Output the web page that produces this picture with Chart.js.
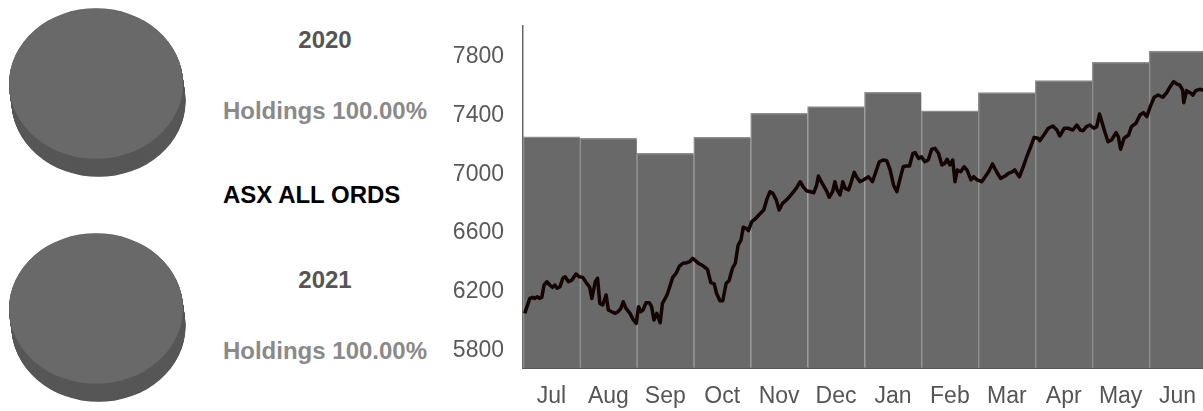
<!DOCTYPE html>
<html><head><meta charset="utf-8">
<script src="https://cdn.jsdelivr.net/npm/chart.js@4.4.1/dist/chart.umd.min.js"></script>
<style>
html,body{margin:0;padding:0;background:#fff;width:1203px;height:411px;overflow:hidden;position:relative;font-family:"Liberation Sans",Arial,sans-serif;}
.t{position:absolute;font-weight:bold;font-size:24px;line-height:24px;white-space:nowrap;}
.c{transform:translateX(-50%);}
canvas{position:absolute;}
</style></head><body>
<canvas id="pie1" width="200" height="200" style="left:0;top:-10px"></canvas>
<canvas id="pie2" width="200" height="200" style="left:0;top:214.5px"></canvas>
<div class="t c" id="y1" style="left:325px;top:27.5px;color:#555"></div>
<div class="t c" id="h1" style="left:325px;top:98.5px;color:#8a8a8a"></div>
<div class="t" id="ttl" style="left:223px;top:182.5px;color:#000"></div>
<div class="t c" id="y2" style="left:325px;top:267.5px;color:#555"></div>
<div class="t c" id="h2" style="left:325px;top:338.5px;color:#8a8a8a"></div>
<canvas id="main" width="770" height="411" style="left:440px;top:0"></canvas>
<script>
// ---- data ----
const indexName = 'ASX ALL ORDS';
const pieYears = ['2020', '2021'];
const pieHoldings = [100, 100];
const months = ['Jul','Aug','Sep','Oct','Nov','Dec','Jan','Feb','Mar','Apr','May','Jun'];
const monthlyBars = [7255, 7244, 7142, 7251, 7415, 7460, 7558, 7432, 7555, 7637, 7762, 7839];
const yTicks = [5800, 6200, 6600, 7000, 7400, 7800];
const yRange = [5681, 8009];
// ASX daily path: position in months from start of July, and index level
const asxMonth = [
 0.03,0.12,0.17,0.21,0.25,0.29,0.33,0.37,0.42,0.47,
 0.52,0.56,0.60,0.65,0.70,0.74,0.80,0.86,0.93,0.99,
 1.05,1.12,1.17,1.21,1.27,1.31,1.35,1.40,1.46,1.50,
 1.56,1.62,1.67,1.72,1.76,1.81,1.88,1.94,1.99,2.03,
 2.07,2.11,2.16,2.22,2.26,2.30,2.35,2.41,2.45,2.53,
 2.57,2.63,2.69,2.75,2.81,2.88,2.93,2.98,3.05,3.08,
 3.17,3.24,3.30,3.36,3.40,3.46,3.51,3.57,3.62,3.68,
 3.73,3.78,3.83,3.87,3.92,3.96,4.02,4.09,4.16,4.23,
 4.29,4.34,4.39,4.45,4.50,4.56,4.64,4.72,4.80,4.87,
 4.92,4.98,5.05,5.11,5.16,5.19,5.24,5.29,5.34,5.38,
 5.44,5.48,5.52,5.57,5.62,5.66,5.72,5.76,5.82,5.86,
 5.92,5.98,6.07,6.14,6.20,6.26,6.33,6.39,6.45,6.51,
 6.57,6.62,6.68,6.73,6.79,6.85,6.89,6.95,7.00,7.06,
 7.12,7.18,7.24,7.30,7.36,7.41,7.45,7.50,7.55,7.59,
 7.63,7.69,7.75,7.80,7.87,7.92,7.98,8.06,8.12,8.18,
 8.25,8.32,8.39,8.47,8.53,8.60,8.64,8.72,8.79,8.85,
 8.92,8.98,9.05,9.08,9.15,9.23,9.31,9.38,9.43,9.51,
 9.58,9.66,9.73,9.79,9.84,9.90,9.96,10.03,10.08,10.13,
 10.17,10.23,10.28,10.34,10.42,10.46,10.50,10.56,10.64,10.69,
 10.77,10.84,10.90,10.96,11.02,11.09,11.16,11.24,11.31,11.37,
 11.43,11.49,11.54,11.59,11.61,11.66,11.72,11.77,11.82,11.89,
 11.94,12.00
];
const asxClose = [
 6053,6155,6162,6155,6166,6155,6162,6246,6268,6246,
 6230,6246,6224,6234,6292,6302,6268,6280,6321,6302,
 6298,6257,6234,6155,6268,6292,6121,6110,6178,6076,
 6064,6053,6064,6087,6132,6087,6053,6008,5985,6098,
 6064,6076,6125,6125,6098,6008,6053,5989,6121,6178,
 6224,6298,6326,6375,6394,6398,6405,6428,6405,6394,
 6375,6353,6262,6253,6190,6139,6139,6258,6275,6360,
 6394,6518,6552,6639,6632,6616,6677,6700,6729,6756,
 6836,6881,6870,6825,6756,6802,6829,6865,6904,6949,
 6915,6888,6881,6874,6927,6988,6949,6915,6881,6843,
 6881,6949,6893,6859,6949,6904,6893,6938,7013,6983,
 6949,6961,6983,6949,7017,7085,7097,7092,7029,6927,
 6881,6961,7051,7056,7056,7142,7147,7108,7119,7085,
 7097,7170,7176,7142,7063,7074,7102,7063,7097,6949,
 7029,7017,7051,7029,6961,6983,6961,6949,6983,7017,
 7070,7017,6972,6988,7006,7017,7029,6983,7051,7119,
 7187,7251,7245,7228,7267,7313,7328,7301,7260,7313,
 7313,7301,7335,7301,7296,7324,7335,7313,7324,7410,
 7358,7279,7221,7233,7283,7255,7170,7245,7267,7324,
 7347,7403,7419,7392,7460,7524,7539,7524,7555,7596,
 7630,7614,7607,7573,7487,7569,7555,7539,7569,7578,
 7573,7570
];

// ---- text ----
document.getElementById('y1').textContent = pieYears[0];
document.getElementById('y2').textContent = pieYears[1];
document.getElementById('h1').textContent = 'Holdings ' + pieHoldings[0].toFixed(2) + '%';
document.getElementById('h2').textContent = 'Holdings ' + pieHoldings[1].toFixed(2) + '%';
document.getElementById('ttl').textContent = indexName;

Chart.defaults.font.family = '"Liberation Sans", Arial, sans-serif';
Chart.defaults.animation = false;

// 3D-looking pie: squash vertically and extrude a darker side
const pie3d = {
  id: 'pie3d',
  beforeDatasetsDraw(chart, args, opts) {
    const arc = chart.getDatasetMeta(0).data[0];
    const ctx = chart.ctx;
    ctx.save();
    if (!arc) return;
    const x = arc.x, y = arc.y, r = arc.outerRadius, k = opts.k;
    ctx.translate(x, y); ctx.scale(1, k); ctx.translate(-x, -y);
    ctx.fillStyle = opts.side;
    const n = Math.ceil(opts.depth * 2);
    for (let i = n; i >= 1; i--) {
      const d = opts.depth * i / n;
      ctx.beginPath();
      ctx.arc(x + opts.dx * i / n, y + d / k, r, 0, Math.PI * 2);
      ctx.fill();
    }
  },
  afterDatasetsDraw(chart) { chart.ctx.restore(); }
};

function makePie(id, value) {
  new Chart(document.getElementById(id), {
    type: 'pie',
    data: { labels: ['Holdings'], datasets: [{ data: [value], backgroundColor: '#696969', borderWidth: 0, clip: false }] },
    options: {
      responsive: false,
      layout: { padding: { left: 9, right: 17, top: 6.5, bottom: 19.5 } },
      plugins: { legend: { display: false }, tooltip: { enabled: false },
        pie3d: { k: 0.866, depth: 18, dx: 2.5, side: '#575757' } }
    },
    plugins: [pie3d]
  });
}
makePie('pie1', pieHoldings[0]);
makePie('pie2', pieHoldings[1]);

new Chart(document.getElementById('main'), {
  type: 'bar',
  data: {
    labels: months,
    datasets: [
      { type: 'line', data: asxMonth.map((m, i) => ({ x: m, y: asxClose[i] })),
        xAxisID: 'x2', yAxisID: 'y', borderColor: '#150404', borderWidth: 3.5,
        pointRadius: 0, tension: 0, order: 0, borderJoinStyle: 'round' },
      { type: 'bar', data: monthlyBars, xAxisID: 'x', yAxisID: 'y',
        backgroundColor: '#696969', borderColor: '#8e8e8e',
        borderWidth: { top: 1.5, left: 1.5, right: 0, bottom: 0 }, borderSkipped: false,
        grouped: false, barPercentage: 1, categoryPercentage: 1, order: 1 }
    ]
  },
  options: {
    responsive: false,
    layout: { padding: { top: 26, right: 4, left: 0, bottom: 0 } },
    plugins: { legend: { display: false }, tooltip: { enabled: false } },
    scales: {
      x: { type: 'category', offset: true,
        grid: { display: false, drawTicks: false },
        border: { display: true, color: '#555', width: 2 },
        ticks: { color: '#555', font: { size: 23 }, padding: 15, maxRotation: 0, autoSkip: false },
        afterFit(s) { s.height = 43; s.paddingLeft = 0; s.paddingRight = 0; } },
      x2: { type: 'linear', display: false, offset: false, min: 0, max: 12,
        grid: { offset: false } },
      y: { min: yRange[0], max: yRange[1],
        grid: { display: false, drawTicks: false },
        border: { display: true, color: '#666', width: 1.5 },
        ticks: { color: '#595959', font: { size: 23 }, padding: 19, callback: v => String(v) },
        afterBuildTicks(s) { s.ticks = yTicks.map(v => ({ value: v })); },
        afterFit(s) { s.width = 83; s.paddingTop = 0; s.paddingBottom = 0; } }
    }
  }
});
</script>
</body></html>
